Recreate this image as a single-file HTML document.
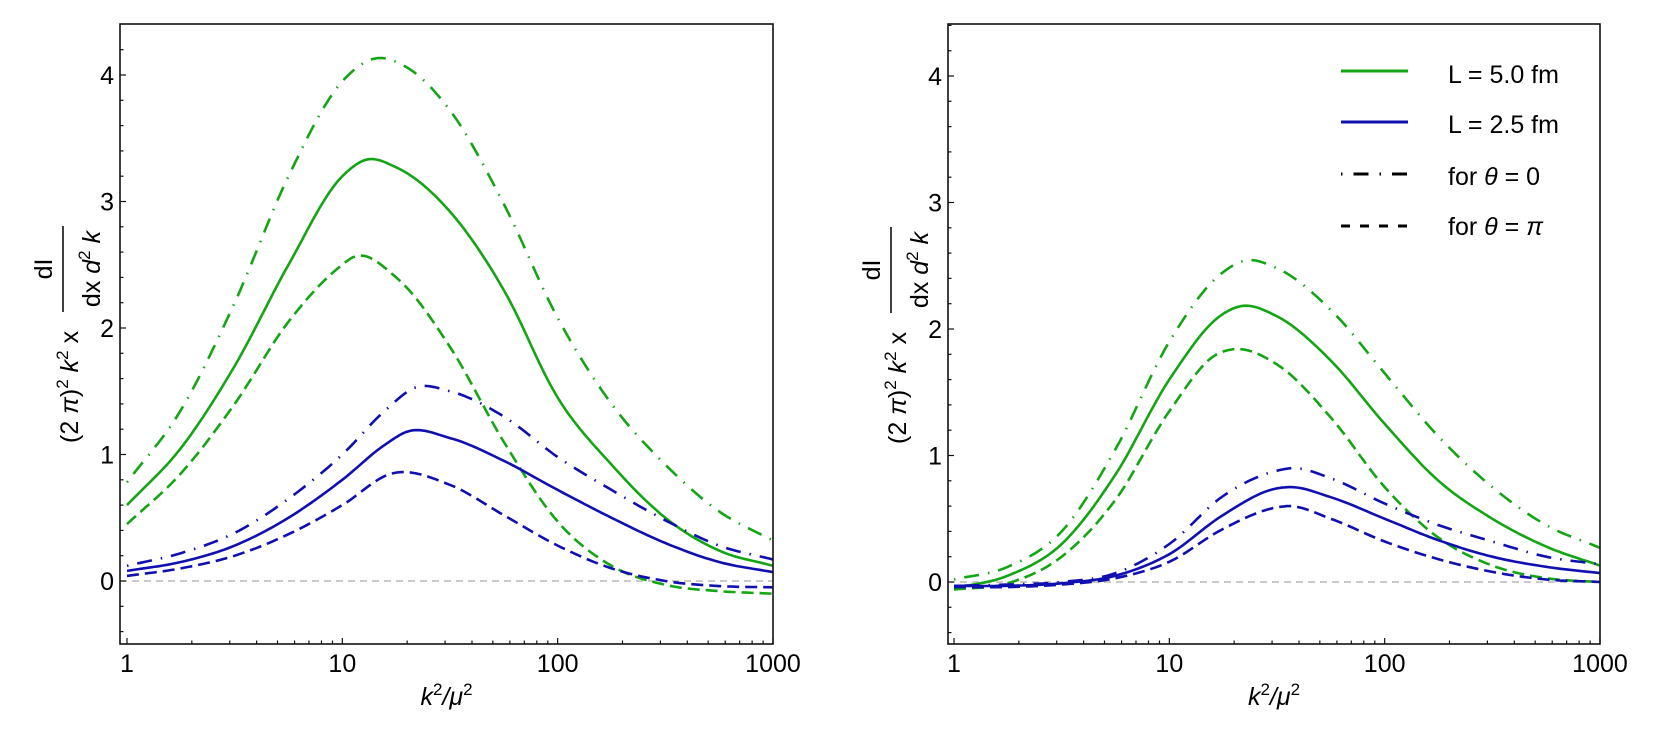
<!DOCTYPE html>
<html><head><meta charset="utf-8"><style>
html,body{margin:0;padding:0;background:#fff;}
svg{display:block;font-family:"Liberation Sans",sans-serif;}
</style></head><body>
<svg id="s" width="1661" height="743" viewBox="0 0 1661 743" xmlns="http://www.w3.org/2000/svg">
<defs>
<clipPath id="c1"><rect x="120" y="24" width="653" height="620"/></clipPath>
<clipPath id="c2"><rect x="948" y="25" width="652" height="619"/></clipPath>
</defs>
<g id="g1" clip-path="url(#c1)"></g>
<g id="g2" clip-path="url(#c2)"></g>
<g id="axes"></g>
<g stroke-width="3" fill="none">
<line x1="1341" y1="71" x2="1408" y2="71" stroke="#14a514"/>
<line x1="1341" y1="122" x2="1408" y2="122" stroke="#1010b0"/>
<line x1="1341" y1="174" x2="1408" y2="174" stroke="#000" stroke-dasharray="1.5,11,15,11"/>
<line x1="1341" y1="226" x2="1408" y2="226" stroke="#000" stroke-dasharray="9,10"/>
</g>
<g font-size="25" fill="#000">
<text x="1448" y="83">L = 5.0 fm</text>
<text x="1448" y="133">L = 2.5 fm</text>
<text x="1448" y="185">for <tspan font-style="italic">θ</tspan> = 0</text>
<text x="1448" y="235">for <tspan font-style="italic">θ</tspan> = <tspan font-style="italic">π</tspan></text>
</g>
</svg>
<script>
var NS="http://www.w3.org/2000/svg";
function el(p,t,a,txt){var e=document.createElementNS(NS,t);for(var k in a)e.setAttribute(k,a[k]);if(txt!==undefined)e.textContent=txt;p.appendChild(e);return e;}
var G="#14a514",B="#1010b0",DD="1.5,9,15,9",DA="12,6";
var P=[{x0:127,fl:120,fr:773,z:581,g:"g1",
 curves:[
 [G,DD,[[0,0.78],[0.25,1.35],[0.5,2.2],[0.75,3.2],[1.0,3.95],[1.15,4.13],[1.3,4.06],[1.5,3.72],[1.75,2.98],[2.0,2.08],[2.25,1.4],[2.5,0.92],[2.75,0.55],[3.0,0.32]]],
 [G,null,[[0,0.6],[0.25,1.05],[0.5,1.7],[0.75,2.5],[1.0,3.2],[1.11,3.33],[1.25,3.27],[1.5,2.92],[1.75,2.3],[2.0,1.45],[2.25,0.92],[2.5,0.5],[2.75,0.24],[3.0,0.12]]],
 [G,DA,[[0,0.45],[0.25,0.85],[0.5,1.4],[0.75,2.05],[1.0,2.5],[1.05,2.56],[1.25,2.4],[1.5,1.85],[1.75,1.1],[2.0,0.47],[2.25,0.12],[2.5,-0.03],[2.75,-0.08],[3.0,-0.1]]],
 [B,DD,[[0,0.12],[0.25,0.22],[0.5,0.38],[0.75,0.65],[1.0,1.0],[1.2,1.35],[1.34,1.53],[1.5,1.5],[1.75,1.3],[2.0,0.98],[2.25,0.72],[2.5,0.48],[2.75,0.28],[3.0,0.17]]],
 [B,null,[[0,0.08],[0.25,0.15],[0.5,0.28],[0.75,0.5],[1.0,0.8],[1.2,1.08],[1.3,1.18],[1.5,1.13],[1.75,0.95],[2.0,0.72],[2.25,0.5],[2.5,0.3],[2.75,0.15],[3.0,0.07]]],
 [B,DA,[[0,0.04],[0.25,0.1],[0.5,0.2],[0.75,0.37],[1.0,0.6],[1.23,0.85],[1.5,0.76],[1.75,0.52],[2.0,0.28],[2.25,0.1],[2.5,0.0],[2.75,-0.04],[3.0,-0.05]]]
 ]},
 {x0:954,fl:948,fr:1600,z:582,g:"g2",
 curves:[
 [G,DD,[[0,0.02],[0.25,0.12],[0.5,0.4],[0.75,1.05],[1.0,1.9],[1.25,2.45],[1.35,2.54],[1.5,2.48],[1.75,2.15],[2.0,1.65],[2.25,1.15],[2.5,0.75],[2.75,0.45],[3.0,0.27]]],
 [G,null,[[0,-0.05],[0.25,0.05],[0.5,0.3],[0.75,0.85],[1.0,1.6],[1.25,2.12],[1.33,2.18],[1.5,2.1],[1.75,1.75],[2.0,1.25],[2.25,0.8],[2.5,0.5],[2.75,0.28],[3.0,0.13]]],
 [G,DA,[[0,-0.06],[0.25,-0.01],[0.5,0.2],[0.75,0.65],[1.0,1.35],[1.22,1.8],[1.3,1.84],[1.5,1.72],[1.75,1.3],[2.0,0.75],[2.25,0.35],[2.5,0.13],[2.75,0.03],[3.0,0.0]]],
 [B,DD,[[0,-0.03],[0.25,-0.02],[0.5,0.0],[0.75,0.07],[1.0,0.3],[1.25,0.68],[1.5,0.88],[1.57,0.9],[1.75,0.82],[2.0,0.62],[2.25,0.45],[2.5,0.32],[2.75,0.2],[3.0,0.14]]],
 [B,null,[[0,-0.03],[0.25,-0.03],[0.5,-0.01],[0.75,0.05],[1.0,0.22],[1.25,0.53],[1.5,0.74],[1.56,0.75],[1.75,0.67],[2.0,0.5],[2.25,0.33],[2.5,0.2],[2.75,0.12],[3.0,0.07]]],
 [B,DA,[[0,-0.04],[0.25,-0.04],[0.5,-0.02],[0.75,0.03],[1.0,0.16],[1.25,0.42],[1.5,0.59],[1.55,0.6],[1.75,0.5],[2.0,0.32],[2.25,0.18],[2.5,0.08],[2.75,0.02],[3.0,0.0]]]
 ]}];
var D=215.33,U=126.5;
function interp(q){
 var n=q.length,m=[],out=[];
 for(var i=0;i<n;i++){
  if(i==0)m[i]=(q[1][1]-q[0][1])/(q[1][0]-q[0][0]);
  else if(i==n-1)m[i]=(q[n-1][1]-q[n-2][1])/(q[n-1][0]-q[n-2][0]);
  else{var h0=q[i][0]-q[i-1][0],h1=q[i+1][0]-q[i][0],d0=(q[i][1]-q[i-1][1])/h0,d1=(q[i+1][1]-q[i][1])/h1;m[i]=(h0*d1+h1*d0)/(h0+h1);}
 }
 for(var i=0;i<n-1;i++){var h=q[i+1][0]-q[i][0];
  for(var s=0;s<12;s++){var t=s/12,t2=t*t,t3=t2*t;
   var y=(2*t3-3*t2+1)*q[i][1]+(t3-2*t2+t)*h*m[i]+(-2*t3+3*t2)*q[i+1][1]+(t3-t2)*h*m[i+1];
   out.push([q[i][0]+t*h,y]);}}
 out.push(q[n-1]);return out;
}
var ax=document.getElementById("axes");
P.forEach(function(p,pi){
 var g=document.getElementById(p.g);
 function X(u){return p.x0+D*u;} function Y(v){return p.z-U*v;}
 el(g,"line",{x1:p.fl,x2:p.fr,y1:p.z,y2:p.z,stroke:"#aaa","stroke-width":1.3,"stroke-dasharray":"7,5"});
 p.curves.forEach(function(c){
  var pts=interp(c[2]);
  var d=pts.map(function(q,i){return (i?"L":"M")+X(q[0]).toFixed(1)+","+Y(q[1]).toFixed(1);}).join(" ");
  var a={d:d,fill:"none",stroke:c[0],"stroke-width":2.6,"stroke-linejoin":"round"};
  if(c[1])a["stroke-dasharray"]=c[1];
  el(g,"path",a);
 });
 el(ax,"rect",{x:p.fl,y:24,width:p.fr-p.fl,height:620,fill:"none",stroke:"#111","stroke-width":1.6});
 for(var k=-2;k<=22;k++){var v=k*0.2,y=Y(v);if(y<25||y>643)continue;var maj=(k%5==0);
  el(ax,"line",{x1:p.fl,x2:p.fl+(maj?6:3.5),y1:y,y2:y,stroke:"#111","stroke-width":1.2});
  if(maj)el(ax,"text",{x:p.fl-6,y:y+9,"text-anchor":"end","font-size":25},String(Math.round(v)));}
 for(var e=0;e<3;e++)for(var m=1;m<=10;m++){if(m==10&&e<2)continue;var u=e+Math.log10(m),x=X(u);
  var maj=(m==1||m==10);el(ax,"line",{x1:x,x2:x,y1:644,y2:644-(maj?6:3.5),stroke:"#111","stroke-width":1.2});}
 ["1","10","100","1000"].forEach(function(t,i){el(ax,"text",{x:X(i),y:672,"text-anchor":"middle","font-size":25},t);});
 var xt=el(ax,"text",{x:(p.fl+p.fr)/2,y:705,"text-anchor":"middle","font-size":25,"font-style":"italic"});
 xt.innerHTML='k<tspan dy="-10" font-size="17" font-style="normal">2</tspan><tspan dy="10">/μ</tspan><tspan dy="-10" font-size="17" font-style="normal">2</tspan>';
 var sh=p.fl-120;
 var yg=el(ax,"g",{transform:"translate("+sh+","+(pi)+") rotate(-90)"});
 var t1=el(yg,"text",{x:-443,y:78,"font-size":25});
 t1.innerHTML='(2 <tspan font-style="italic">π</tspan>)<tspan dy="-10" font-size="17">2</tspan><tspan dy="10" font-style="italic"> k</tspan><tspan dy="-10" font-size="17">2</tspan><tspan dy="10"> x</tspan>';
 el(yg,"line",{x1:-312,x2:-226,y1:63,y2:63,stroke:"#000","stroke-width":1.5});
 el(yg,"text",{x:-269,y:52,"text-anchor":"middle","font-size":25},"dI");
 var t3=el(yg,"text",{x:-269,y:100,"text-anchor":"middle","font-size":25});
 t3.innerHTML='dx <tspan font-style="italic">d</tspan><tspan dy="-10" font-size="17">2</tspan><tspan dy="10" font-style="italic"> k</tspan>';
});
</script>
</body></html>
